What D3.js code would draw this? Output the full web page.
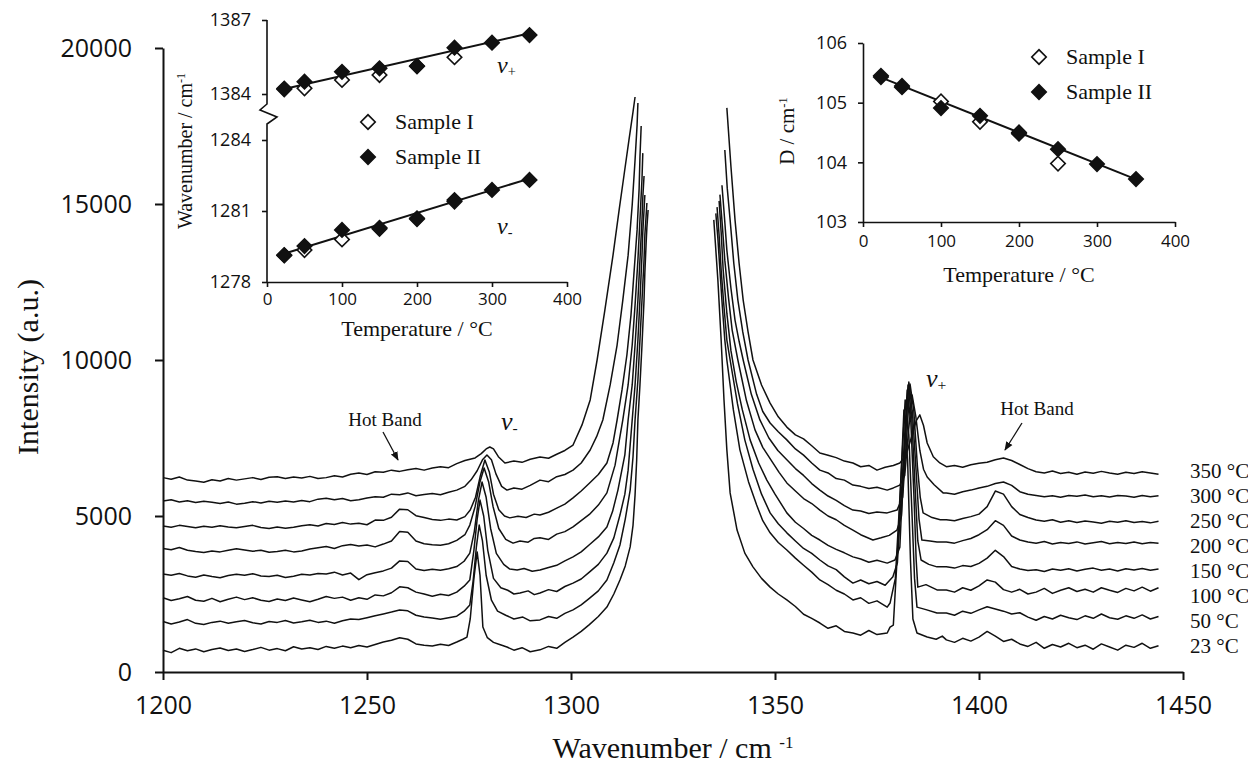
<!DOCTYPE html>
<html>
<head>
<meta charset="utf-8">
<script src="https://cdn.jsdelivr.net/npm/d3@7"></script>
<style>
body { margin: 0; background: #fff; }
svg { display: block; }
</style>
</head>
<body>
<script>
// ---- main spectra data ----
const temps = [23, 50, 100, 150, 200, 250, 300, 350];
const xTicks = [1200, 1250, 1300, 1350, 1400, 1450];
const yTicks = [0, 5000, 10000, 15000, 20000];

// sampling of the flat parts of the spectra (cm-1)
const wLeft = [1200, 1202, 1204, 1206, 1208, 1210, 1212, 1214, 1216, 1218, 1220, 1222, 1224, 1226, 1228, 1230, 1232, 1234,
  1236, 1238, 1240, 1242, 1244, 1246, 1248, 1250, 1252, 1254, 1256, 1258, 1260, 1262, 1264, 1266, 1268, 1270, 1272];
const wRight = [1392, 1394, 1396, 1398, 1400, 1402, 1404, 1406, 1408, 1410, 1412, 1414, 1416, 1418, 1420, 1422, 1424, 1426,
  1428, 1430, 1432, 1434, 1436, 1438, 1440, 1442, 1444];

// intensities on wLeft, one row per temperature (23 ... 350 °C)
const leftBase = [
  [700, 620, 760, 680, 740, 650, 720, 770, 690, 740, 660, 720, 790, 700, 750, 680, 810, 740, 780, 720, 820, 760, 830, 780, 850, 800, 880, 960, 1020, 1100, 1050, 900, 860, 830, 890, 850, 960],
  [1620, 1540, 1600, 1680, 1560, 1520, 1590, 1630, 1560, 1610, 1650, 1580, 1540, 1620, 1590, 1650, 1570, 1610, 1660, 1590, 1630, 1560, 1640, 1700, 1680, 1740, 1800, 1860, 1920, 1990, 1960, 1820, 1760, 1730, 1690, 1740, 1790],
  [2380, 2290, 2350, 2420, 2300, 2270, 2360, 2250, 2330, 2400, 2320, 2380, 2300, 2260, 2340, 2290, 2370, 2310, 2250, 2330, 2420, 2360, 2400, 2300, 2380, 2330, 2470, 2440, 2540, 2730, 2700, 2560, 2500, 2430, 2490, 2450, 2560],
  [3140, 3100, 3160, 3080, 3040, 3110, 3060, 3020, 3090, 3130, 3100, 3150, 3080, 3060, 3100, 3030, 3070, 3130, 3110, 3160, 3140, 3200, 3110, 3170, 2960, 3120, 3180, 3240, 3330, 3560, 3540, 3300, 3250, 3290, 3260, 3310, 3380],
  [3960, 3920, 3990, 3900, 3860, 3830, 3880, 3850, 3900, 3950, 3910, 3870, 3900, 3840, 3860, 3900, 3850, 3880, 3940, 3980, 4020, 3960, 4050, 4090, 4040, 4070, 4010, 4100, 4200, 4500, 4480, 4200, 4110, 4080, 4060, 4110, 4220],
  [4680, 4640, 4700, 4660, 4620, 4670, 4640, 4690, 4650, 4620, 4660, 4700, 4630, 4600, 4650, 4610, 4640, 4690, 4720, 4680, 4760, 4730, 4790, 4740, 4770, 4720, 4870, 4860, 4960, 5220, 5200, 5010, 4950, 4890, 4860, 4900, 4870],
  [5480, 5520, 5450, 5490, 5430, 5470, 5440, 5400, 5450, 5380, 5410, 5460, 5420, 5470, 5440, 5480, 5450, 5500, 5460, 5540, 5570, 5520, 5560, 5490, 5520, 5580, 5620, 5600, 5700, 5680, 5740, 5650, 5690, 5720, 5680, 5760, 5830],
  [6230, 6180, 6250, 6150, 6120, 6080, 6160, 6120, 6200, 6150, 6190, 6230, 6170, 6240, 6260, 6200, 6250, 6220, 6270, 6200, 6230, 6290, 6250, 6340, 6380, 6330, 6420, 6400, 6470, 6430, 6480, 6520, 6470, 6540, 6580, 6550, 6680]
];

// nu- peak and rising wing up to the cut-off, [cm-1, intensity]
const midLeft = [
  [[1273.5,1050],[1274.5,1120],[1275.3,1700],[1276.2,3000],[1277,3850],[1277.7,3100],[1278.4,1440],[1279.5,1100],[1281,950],[1282.5,880],[1284.3,800],[1286,700],[1288,780],[1290,650],[1292.4,710],[1294.5,820],[1296.5,760],[1298.5,950],[1300.5,1120],[1302.5,1300],[1304.5,1520],[1306.7,1780],[1308.8,2080],[1310.5,2500],[1312,2950],[1313.3,3400],[1314.5,4010],[1315.2,4700],[1315.7,5670],[1316.1,6800],[1316.4,8077],[1316.9,9200],[1317.4,10480],[1317.9,11920],[1318.1,12800],[1318.4,13700],[1318.6,14250],[1318.9,14810]],
  [[1273.8,1950],[1275.2,2150],[1276,2900],[1276.8,4000],[1277.5,4710],[1278.3,4200],[1279.2,3100],[1280.5,2300],[1282,1950],[1284,1820],[1286,1700],[1288.2,1760],[1290,1640],[1292.4,1670],[1294.5,1780],[1296.5,1720],[1298.5,1880],[1300.5,1990],[1302.5,2150],[1304.5,2360],[1306.7,2600],[1308.8,2950],[1310.5,3500],[1312,4070],[1313.3,4900],[1314.5,5830],[1315.2,6900],[1315.7,8077],[1316.4,9360],[1316.9,10640],[1317.4,11920],[1317.9,13200],[1318.1,14000],[1318.4,14600],[1318.6,15030]],
  [[1273.8,2750],[1275.2,2950],[1276.2,3900],[1277,4900],[1277.7,5510],[1278.6,5000],[1279.6,3900],[1281,3000],[1282.8,2700],[1284.5,2620],[1286,2500],[1287.5,2530],[1289.5,2600],[1291,2480],[1292.4,2530],[1294.5,2640],[1296.5,2580],[1298.5,2740],[1300.5,2850],[1302.5,2980],[1304.5,3200],[1306.7,3450],[1308.8,3810],[1310.5,4300],[1312,5030],[1313.2,5700],[1314,6470],[1315,8077],[1315.7,9200],[1316.4,10640],[1316.9,11920],[1317.4,13360],[1317.6,14100],[1317.9,14800],[1318.1,15290]],
  [[1273.8,3550],[1275.2,3810],[1276.3,4500],[1277.3,5500],[1278.2,6090],[1279.2,5600],[1280.3,4600],[1281.7,3800],[1283.5,3450],[1285,3300],[1286.8,3270],[1288.5,3320],[1290.5,3230],[1292.4,3270],[1294.5,3350],[1296.5,3420],[1298.5,3560],[1300.5,3690],[1302.5,3850],[1304.5,4080],[1306.7,4330],[1308.8,4650],[1310.2,5150],[1311.5,5830],[1313.2,6960],[1314,8077],[1315,9200],[1315.7,10480],[1316.4,11920],[1316.9,13200],[1317.4,14500],[1317.6,15200],[1317.9,15900]],
  [[1274,4400],[1275.2,4710],[1276.5,5300],[1277.7,6100],[1278.7,6540],[1279.8,6100],[1280.9,5300],[1282.3,4600],[1284,4250],[1285.8,4130],[1287.5,4200],[1289.5,4160],[1291,4280],[1292.4,4300],[1294.5,4250],[1296.5,4420],[1298.5,4500],[1300.5,4650],[1302.5,4850],[1304.5,5050],[1306.7,5350],[1308.8,5740],[1310.8,6630],[1312.7,8077],[1314,9200],[1315,10480],[1315.7,11760],[1316.4,13200],[1316.9,14500],[1317.4,15800],[1317.6,16630]],
  [[1274,4980],[1275.3,5190],[1276.6,5600],[1277.8,6300],[1278.9,6795],[1280,6400],[1281,5700],[1282.3,5200],[1283.7,5000],[1285,4940],[1287,4990],[1289,4950],[1291,5060],[1292.4,5030],[1294.5,5120],[1296.5,5250],[1298.5,5380],[1300.5,5580],[1302.5,5800],[1304.5,6050],[1306.7,6330],[1308.8,6700],[1310.3,7340],[1311.3,8077],[1312.5,9040],[1313.7,10160],[1314.7,11440],[1315.4,12720],[1316.2,14170],[1316.7,15500],[1316.9,16500],[1317.2,17500]],
  [[1274,5950],[1275.5,6160],[1277,6450],[1278.3,6800],[1279.4,6955],[1280.5,6800],[1281.6,6350],[1283,5950],[1284.3,5830],[1286,5900],[1288,5860],[1290,5980],[1292.4,6150],[1294.5,6100],[1296.5,6260],[1298.5,6330],[1300.5,6470],[1302.5,6700],[1304.7,7115],[1306.3,7550],[1307.8,8077],[1309.6,9200],[1311.3,10480],[1312.7,11920],[1314,13360],[1315,14970],[1315.7,16410],[1316.2,17530],[1316.4,18240]],
  [[1274,6780],[1276.5,6860],[1278,7000],[1279.2,7150],[1280.1,7211],[1281,7150],[1282.2,6900],[1283.8,6700],[1286,6760],[1288,6720],[1290,6820],[1292.4,6890],[1294.5,6850],[1296.5,6980],[1298.5,7100],[1300.5,7275],[1302.7,7920],[1304.7,8720],[1306.4,10000],[1308.3,11600],[1310.3,13360],[1311.8,14810],[1313,15930],[1314.2,17050],[1315.2,17950],[1315.7,18430]]
];

// falling wing after the cut-off and the nu+ peak, [cm-1, intensity]
const midRight = [
  [[1335,14490],[1336,12560],[1336.8,10640],[1337.5,8720],[1338.2,7120],[1339,5740],[1340.7,4550],[1342.6,3810],[1344.6,3370],[1346.7,3000],[1348.8,2720],[1350.8,2500],[1352.9,2310],[1355,2100],[1357,1850],[1359,1720],[1361,1570],[1363,1400],[1365,1480],[1367,1300],[1369.1,1250],[1371,1180],[1373,1330],[1375,1200],[1377.5,1250],[1378.2,1440],[1379,1500],[1380.3,4500],[1381.6,8400],[1382.5,6800],[1383.2,3600],[1383.8,1700],[1384.8,1250],[1387.3,1120],[1389.5,1050],[1391,1150]],
  [[1335.5,14700],[1336,13900],[1336.5,12880],[1337.1,11700],[1337.7,10640],[1338.2,10000],[1339.8,8400],[1341.4,7120],[1343.5,6100],[1345.5,5350],[1347,4850],[1348.8,4460],[1350.8,4150],[1352.9,3910],[1355,3650],[1357,3420],[1359,3200],[1361,2950],[1363,2800],[1365,2620],[1367,2500],[1369.1,2310],[1371,2380],[1373,2200],[1375,2280],[1377.5,2080],[1378.2,2210],[1379.5,3000],[1380.7,5800],[1381.9,8720],[1382.8,7600],[1383.6,5000],[1384.2,3000],[1384.8,2080],[1387,2000],[1389.7,1890]],
  [[1335.8,14900],[1336.3,14000],[1336.8,12880],[1337.5,11700],[1338.2,10640],[1339,10000],[1340.8,8600],[1342.6,7440],[1344.6,6500],[1346.7,5700],[1348.8,5100],[1350.8,4750],[1352.9,4460],[1355,4200],[1357,3960],[1359,3800],[1361,3590],[1363,3400],[1365,3280],[1367,3050],[1369.1,2850],[1371,2950],[1373,2830],[1375,2900],[1377,2780],[1378.9,3050],[1380,3500],[1381.2,6200],[1382.4,9040],[1383.3,8000],[1384.1,5500],[1384.6,3600],[1385,2720],[1387,2800],[1389.7,2630]],
  [[1336.3,15100],[1336.8,14100],[1337.3,12880],[1338.2,11500],[1339.2,10300],[1340.5,9300],[1342,8400],[1343.9,7440],[1346,6700],[1348,6150],[1350,5700],[1352.9,5100],[1355,4800],[1357,4600],[1359,4380],[1361,4230],[1363,4060],[1365,3930],[1367,3820],[1369.1,3690],[1371,3620],[1373,3520],[1375,3580],[1377.5,3490],[1379.4,3590],[1380.6,4000],[1381.6,6900],[1382.6,9200],[1383.5,8200],[1384.3,6000],[1385,4200],[1385.8,3590],[1387.7,3450],[1389.7,3370]],
  [[1336.5,15300],[1337.1,14300],[1337.7,13200],[1338.6,12000],[1339.5,10960],[1340.9,10000],[1343,8700],[1345.1,7760],[1347,7200],[1349,6800],[1351,6400],[1352.9,6060],[1355,5800],[1357,5560],[1359,5400],[1361,5190],[1363,5000],[1365,4880],[1367,4700],[1369.1,4550],[1371,4400],[1374,4230],[1376,4300],[1378,4380],[1379.9,4550],[1381,5000],[1381.9,7300],[1382.8,9295],[1383.7,8300],[1384.6,6400],[1385.3,4900],[1386,4230],[1388,4200],[1389.7,4170]],
  [[1337,15600],[1337.6,14600],[1338.2,13520],[1339.2,12300],[1340.2,11280],[1341.2,10600],[1342.2,10000],[1344.2,8900],[1346.3,8080],[1348.5,7500],[1350.7,7100],[1352.9,6800],[1355,6520],[1357,6300],[1359,6040],[1361,5830],[1363,5640],[1365,5500],[1367,5330],[1369.1,5190],[1371,5160],[1373,5080],[1375,5130],[1377.5,5100],[1379.9,5190],[1381.3,5600],[1382.2,7400],[1383.1,9230],[1384,8400],[1384.9,6600],[1385.6,5600],[1386.3,5100],[1388.5,4950],[1390.5,4880]],
  [[1337.7,16730],[1338.3,15500],[1339,14490],[1339.9,13100],[1340.9,11920],[1342.1,10900],[1343.4,10000],[1345.5,8900],[1347,8350],[1348.8,7980],[1350.8,7700],[1352.9,7440],[1355,7150],[1357,6950],[1359,6700],[1361,6470],[1363,6380],[1365,6200],[1367,6150],[1369.1,5990],[1371,5950],[1373,5880],[1375,5920],[1377.5,5830],[1379,5900],[1380.6,5990],[1381.8,6300],[1382.7,7700],[1383.6,8880],[1384.5,8200],[1385.5,7100],[1386.4,6500],[1387.3,6250],[1389,6000],[1391.2,5740]],
  [[1338.2,18080],[1339.2,16200],[1340.2,14490],[1341.2,13100],[1342.2,11920],[1343.4,10900],[1344.6,10000],[1346.7,9200],[1348.8,8620],[1350.8,8180],[1352.9,7850],[1355,7600],[1357,7470],[1359,7250],[1361,7020],[1363,6950],[1365,6870],[1367,6760],[1369.1,6700],[1371,6580],[1373,6620],[1375,6470],[1377,6560],[1379,6620],[1380.6,6700],[1382.1,6950],[1383.5,7550],[1384.6,8050],[1385.5,8240],[1386.4,7900],[1387.3,7340],[1388.8,6900],[1390.4,6700]]
];

// intensities on wRight, one row per temperature
const rightBase = [
  [1030, 950, 1080, 990, 1120, 1300, 1150, 980, 1050, 900, 820, 950, 760, 880, 800, 920, 780, 860, 730, 900, 800, 700, 860, 790, 920, 760, 840],
  [1890, 1820, 1950, 1880, 1990, 2090, 2020, 1950, 1860, 1900, 1760, 1660, 1780, 1700, 1820, 1740, 1680, 1800, 1720, 1860, 1740, 1690, 1800, 1720, 1830, 1700, 1780],
  [2630, 2560, 2700, 2620, 2760, 2950, 2880, 2640, 2560, 2650, 2500, 2560, 2680, 2520, 2620, 2700, 2580, 2650, 2560, 2700, 2620, 2550, 2680, 2600, 2720, 2590, 2700],
  [3370, 3330, 3410, 3380, 3480, 3650, 3900, 3700, 3380, 3300, 3250, 3280, 3220, 3300, 3260, 3310, 3240, 3290, 3330, 3260, 3300, 3240, 3310, 3270, 3320, 3260, 3300],
  [4170, 4130, 4210, 4280, 4400, 4560, 4850, 4700, 4360, 4230, 4170, 4130, 4180, 4100, 4150, 4120, 4170, 4100, 4140, 4180, 4110, 4150, 4120, 4170, 4110, 4150, 4130],
  [4880, 4850, 4920, 4980, 5060, 5300, 5800, 5700, 5300, 5050, 4950, 4870, 4830, 4880, 4800, 4850, 4790, 4840, 4810, 4770, 4830, 4800, 4850, 4790, 4820, 4780, 4830],
  [5740, 5700, 5780, 5830, 5900, 5950, 6040, 6090, 5980, 5780, 5700, 5660, 5620, 5650, 5600, 5660, 5630, 5670, 5620, 5650, 5610, 5660, 5640, 5600, 5660, 5620, 5650],
  [6580, 6620, 6560, 6640, 6690, 6720, 6800, 6860, 6780, 6650, 6520, 6420, 6380, 6440, 6360, 6400, 6340, 6410, 6370, 6430, 6380, 6340, 6400, 6360, 6420, 6380, 6340]
];

// ---- inset data ----
const insetT = [23, 50, 100, 150, 200, 250, 300, 350];
const insetTI = [23, 50, 100, 150, 200, 250];
const nuPlusII = [1384.19, 1384.50, 1384.90, 1385.04, 1385.14, 1385.88, 1386.08, 1386.39];
const nuPlusI = [1384.22, 1384.23, 1384.57, 1384.77, 1385.12, 1385.49];
const nuMinusII = [1279.14, 1279.52, 1280.20, 1280.29, 1280.69, 1281.46, 1281.89, 1282.31];
const nuMinusI = [1279.12, 1279.35, 1279.80, 1280.25, 1280.66, 1281.40];
const dII = [105.43, 105.26, 104.91, 104.78, 104.48, 104.22, 103.97, 103.72];
const dI = [105.45, 105.28, 105.02, 104.68, 104.50, 103.98];
const fitPlus = [[17, 1384.16], [350, 1386.46]];
const fitMinus = [[17, 1279.14], [351, 1282.38]];
const fitD = [[18, 105.45], [351, 103.71]];
const insetXTicks = [0, 100, 200, 300, 400];

const serif = "'Liberation Serif', 'Times New Roman', serif";
const sans = "'Open Sans', 'Liberation Sans', sans-serif";
const ink = "#111";
const plain = d3.format("d");

const svg = d3.select("body").append("svg")
    .attr("width", 1248)
    .attr("height", 771);

svg.append("rect").attr("width", 1248).attr("height", 771).attr("fill", "#fff");

const defs = svg.append("defs");
defs.append("marker")
    .attr("id", "arrow")
    .attr("viewBox", "0 0 10 10")
    .attr("refX", 9).attr("refY", 5)
    .attr("markerWidth", 7).attr("markerHeight", 7)
    .attr("orient", "auto")
    .append("path")
    .attr("d", "M0,1L10,5L0,9Z")
    .attr("fill", ink);

// ---- main chart ----
const x = d3.scaleLinear().domain([1200, 1450]).range([163, 1183]);
const y = d3.scaleLinear().domain([0, 20000]).range([672, 48]);

const line = d3.line()
    .x(d => x(d[0]))
    .y(d => y(d[1]));

// temperature labels are spread evenly between the lowest and highest trace ends
const endFirst = y(rightBase[0][rightBase[0].length - 1]);
const endLast = y(rightBase[temps.length - 1][rightBase[temps.length - 1].length - 1]);
const labelY = d3.scaleLinear().domain([0, temps.length - 1]).range([endFirst, endLast - 3]);

temps.forEach(function(t, i) {
    const left = wLeft.map((w, j) => [w, leftBase[i][j]]).concat(midLeft[i]);
    const right = midRight[i].concat(wRight.map((w, j) => [w, rightBase[i][j]]));
    [left, right].forEach(function(seg) {
        svg.append("path")
            .attr("class", "trace")
            .attr("d", line(seg))
            .attr("fill", "none")
            .attr("stroke", ink)
            .attr("stroke-width", 1.5)
            .attr("stroke-linejoin", "round");
    });
    svg.append("text")
        .attr("x", 1190)
        .attr("y", labelY(i) + 7)
        .style("font-family", serif)
        .style("font-size", "21px")
        .attr("fill", ink)
        .text(t + " °C");
});

function styleAxis(g, fontSize, font, width) {
    g.select(".domain").attr("stroke", ink).attr("stroke-width", width);
    g.selectAll(".tick line").attr("stroke", ink).attr("stroke-width", width);
    g.selectAll(".tick text")
        .attr("fill", ink)
        .style("font-family", font)
        .style("font-size", fontSize + "px");
}

const xAxis = svg.append("g")
    .attr("transform", "translate(0,672)")
    .call(d3.axisBottom(x).tickValues(xTicks).tickFormat(plain).tickSize(8).tickSizeOuter(0).tickPadding(16));
styleAxis(xAxis, 25, sans, 2);

const yAxis = svg.append("g")
    .attr("transform", "translate(163,0)")
    .call(d3.axisLeft(y).tickValues(yTicks).tickFormat(plain).tickSize(8).tickSizeOuter(0).tickPadding(23));
styleAxis(yAxis, 25, sans, 2);

svg.append("text")
    .attr("transform", "translate(38,367) rotate(-90)")
    .style("text-anchor", "middle")
    .style("font-family", serif)
    .style("font-size", "30px")
    .attr("fill", ink)
    .text("Intensity (a.u.)");

const xTitle = svg.append("text")
    .attr("x", 673).attr("y", 758)
    .style("text-anchor", "middle")
    .style("font-family", serif)
    .style("font-size", "30px")
    .attr("fill", ink);
xTitle.append("tspan").text("Wavenumber / cm ");
xTitle.append("tspan").attr("dy", "-0.6em").style("font-size", "17px").text("-1");

// annotations
function nuLabel(parent, px, py, sub, size) {
    const t = parent.append("text")
        .attr("x", px).attr("y", py)
        .style("font-family", serif)
        .style("font-size", size + "px")
        .attr("fill", ink);
    t.append("tspan").style("font-style", "italic").text("ν");
    t.append("tspan").attr("dy", "0.2em").attr("fill", ink).style("font-size", (size * 0.6) + "px").text(sub);
    return t;
}
nuLabel(svg, 501, 430, "-", 26);
nuLabel(svg, 926, 387, "+", 26);

function hotBand(cx, by, x1, y1, x2, y2) {
    svg.append("text")
        .attr("x", cx).attr("y", by)
        .style("text-anchor", "middle")
        .style("font-family", serif)
        .style("font-size", "19px")
        .attr("fill", ink)
        .text("Hot Band");
    svg.append("line")
        .attr("x1", x1).attr("y1", y1).attr("x2", x2).attr("y2", y2)
        .attr("stroke", ink).attr("stroke-width", 1.3)
        .attr("marker-end", "url(#arrow)");
}
hotBand(385, 426, 383, 432, 398, 460);
hotBand(1037, 415, 1022, 423, 1005, 450);

// ---- diamonds ----
const diamond = d3.symbol().type(d3.symbolSquare).size(105);
function drawDiamonds(g, xs, ys, ts, vals, filled) {
    g.selectAll(null)
        .data(ts.map((t, i) => [t, vals[i]]))
        .enter()
        .append("path")
        .attr("d", diamond)
        .attr("transform", d => "translate(" + xs(d[0]) + "," + ys(d[1]) + ") rotate(45)")
        .attr("fill", filled ? ink : "#fff")
        .attr("stroke", ink)
        .attr("stroke-width", 1.6);
}
function legend(g, lx, ly) {
    [["Sample I", false], ["Sample II", true]].forEach(function(d, i) {
        g.append("path")
            .attr("d", diamond)
            .attr("transform", "translate(" + lx + "," + (ly + i * 35) + ") rotate(45)")
            .attr("fill", d[1] ? ink : "#fff")
            .attr("stroke", ink)
            .attr("stroke-width", 1.6);
        g.append("text")
            .attr("x", lx + 27).attr("y", ly + i * 35 + 7)
            .style("font-family", serif)
            .style("font-size", "22px")
            .attr("fill", ink)
            .text(d[0]);
    });
}
function fitLine(g, xs, ys, pts) {
    g.append("line")
        .attr("x1", xs(pts[0][0])).attr("y1", ys(pts[0][1]))
        .attr("x2", xs(pts[1][0])).attr("y2", ys(pts[1][1]))
        .attr("stroke", ink).attr("stroke-width", 2);
}
function rotLabel(g, px, py, main, sup, size) {
    const t = g.append("text")
        .attr("transform", "translate(" + px + "," + py + ") rotate(-90)")
        .style("text-anchor", "middle")
        .style("font-family", serif)
        .style("font-size", size + "px")
        .attr("fill", ink);
    t.append("tspan").text(main);
    t.append("tspan").attr("dy", "-0.55em").style("font-size", (size * 0.6) + "px").text(sup);
}

// ---- inset 1: peak positions ----
const in1 = svg.append("g");
const xi1 = d3.scaleLinear().domain([0, 400]).range([267, 567]);
const yUp = d3.scaleLinear().domain([1384, 1387]).range([94, 20]);
const yLo = d3.scaleLinear().domain([1278, 1284]).range([282, 140]);

const in1x = in1.append("g").attr("transform", "translate(0,282)")
    .call(d3.axisBottom(xi1).tickValues(insetXTicks).tickFormat(plain).tickSize(5).tickSizeOuter(0).tickPadding(6));
styleAxis(in1x, 17, sans, 1.6);
const in1yu = in1.append("g").attr("transform", "translate(267,0)")
    .call(d3.axisLeft(yUp).tickValues([1384, 1387]).tickFormat(plain).tickSize(5).tickSizeOuter(0).tickPadding(11));
styleAxis(in1yu, 18, sans, 1.6);
const in1yl = in1.append("g").attr("transform", "translate(267,0)")
    .call(d3.axisLeft(yLo).tickValues([1278, 1281, 1284]).tickFormat(plain).tickSize(5).tickSizeOuter(0).tickPadding(11));
styleAxis(in1yl, 18, sans, 1.6);
in1yu.select(".domain").remove();
in1yl.select(".domain").remove();
in1.append("path")
    .attr("d", "M267," + yUp(1387) + "V104L260,110L277,117L267,124V" + yLo(1278))
    .attr("fill", "none").attr("stroke", ink).attr("stroke-width", 1.6);

fitLine(in1, xi1, yUp, fitPlus);
fitLine(in1, xi1, yLo, fitMinus);
drawDiamonds(in1, xi1, yUp, insetTI, nuPlusI, false);
drawDiamonds(in1, xi1, yLo, insetTI, nuMinusI, false);
drawDiamonds(in1, xi1, yUp, insetT, nuPlusII, true);
drawDiamonds(in1, xi1, yLo, insetT, nuMinusII, true);
legend(in1, 368, 122);
nuLabel(in1, 497, 73, "+", 24);
nuLabel(in1, 497, 234, "-", 24);

in1.append("text")
    .attr("x", 417).attr("y", 336)
    .style("text-anchor", "middle")
    .style("font-family", serif)
    .style("font-size", "22px")
    .attr("fill", ink)
    .text("Temperature / °C");
rotLabel(in1, 192, 151, "Wavenumber / cm", "-1", 20);

// ---- inset 2: splitting D ----
const in2 = svg.append("g");
const xi2 = d3.scaleLinear().domain([0, 400]).range([863, 1175]);
const yi2 = d3.scaleLinear().domain([103, 106]).range([222, 43]);

const in2x = in2.append("g").attr("transform", "translate(0,222)")
    .call(d3.axisBottom(xi2).tickValues(insetXTicks).tickFormat(plain).tickSize(5).tickSizeOuter(0).tickPadding(8));
styleAxis(in2x, 17, sans, 1.6);
const in2y = in2.append("g").attr("transform", "translate(863,0)")
    .call(d3.axisLeft(yi2).tickValues([103, 104, 105, 106]).tickFormat(plain).tickSize(5).tickSizeOuter(0).tickPadding(11));
styleAxis(in2y, 18, sans, 1.6);

fitLine(in2, xi2, yi2, fitD);
drawDiamonds(in2, xi2, yi2, insetTI, dI, false);
drawDiamonds(in2, xi2, yi2, insetT, dII, true);
legend(in2, 1039, 57);

in2.append("text")
    .attr("x", 1019).attr("y", 282)
    .style("text-anchor", "middle")
    .style("font-family", serif)
    .style("font-size", "22px")
    .attr("fill", ink)
    .text("Temperature / °C");
rotLabel(in2, 794, 131, "D / cm", "-1", 21);
</script>
</body>
</html>
